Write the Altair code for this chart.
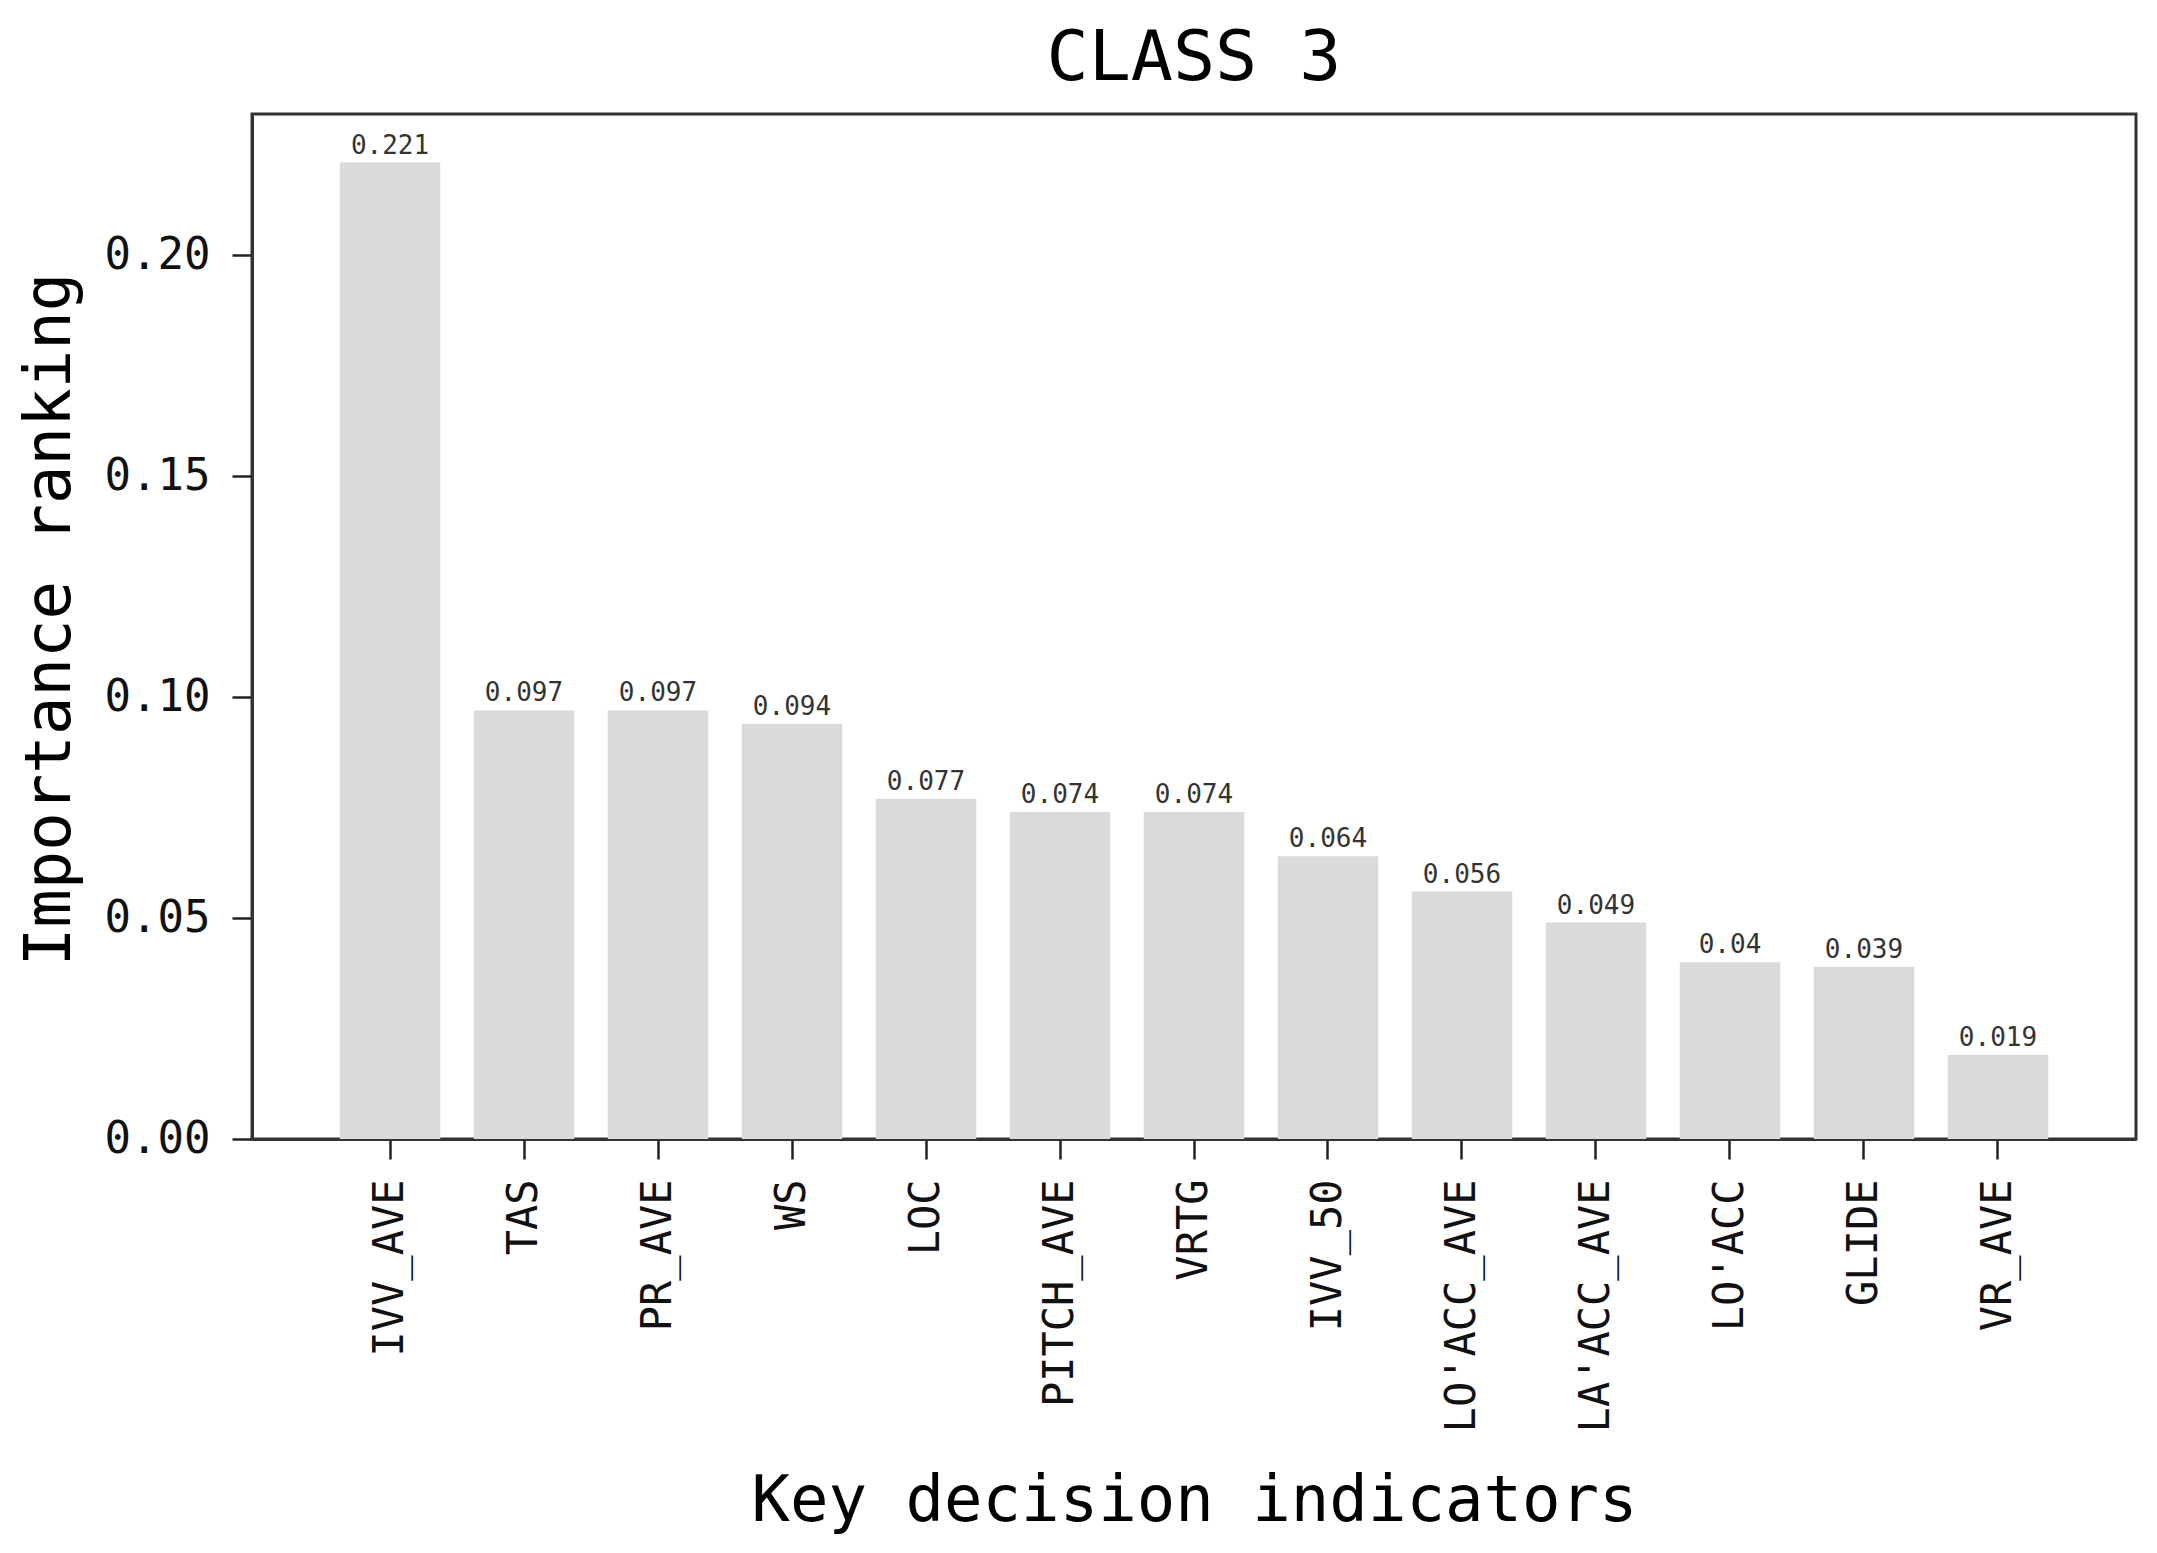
import altair as alt
import pandas as pd

features = ["IVV_AVE", "TAS", "PR_AVE", "WS", "LOC", "PITCH_AVE", "VRTG",
            "IVV_50", "LO'ACC_AVE", "LA'ACC_AVE", "LO'ACC", "GLIDE", "VR_AVE"]
values = [0.221, 0.097, 0.097, 0.094, 0.077, 0.074, 0.074,
          0.064, 0.056, 0.049, 0.04, 0.039, 0.019]
labels = ["0.221", "0.097", "0.097", "0.094", "0.077", "0.074", "0.074",
          "0.064", "0.056", "0.049", "0.04", "0.039", "0.019"]
y_ticks = [0.0, 0.05, 0.10, 0.15, 0.20]

df = pd.DataFrame({"feature": features, "value": values, "label": labels})

FONT = "DejaVu Sans Mono"

x = alt.X("feature:N", sort=features,
          scale=alt.Scale(paddingInner=0.25, paddingOuter=0.655),
          axis=alt.Axis(title="Key decision indicators", labelAngle=-90, labelLimit=0,
                        labelFont=FONT, labelFontSize=42, labelColor="#111",
                        labelPadding=20, tickSize=20, tickWidth=2.5, tickColor="#222",
                        domainColor="#333", domainWidth=3,
                        titleFont=FONT, titleFontSize=64, titleFontWeight="normal",
                        titleColor="#000", titleY=362, titleBaseline="middle"))
y = alt.Y("value:Q",
          scale=alt.Scale(domain=[0, 0.232], nice=False),
          axis=alt.Axis(title="Importance ranking", values=y_ticks, format=".2f",
                        grid=False, labelFont=FONT, labelFontSize=44, labelColor="#111",
                        labelPadding=22, tickSize=20, tickWidth=2.5, tickColor="#222",
                        domainColor="#333", domainWidth=3,
                        titleFont=FONT, titleFontSize=64, titleFontWeight="normal",
                        titleColor="#000", titleAngle=-90, titleX=-202, titleY=505,
                        titleAlign="center", titleBaseline="middle"))

bars = alt.Chart(df).mark_bar(color="#dadada").encode(x=x, y=y)
text = alt.Chart(df).mark_text(font=FONT, fontSize=26, color="#333",
                               baseline="bottom", dy=-4).encode(
    x=alt.X("feature:N", sort=features), y="value:Q", text="label:N")

chart = alt.layer(bars, text).properties(
    width=1884, height=1025,
    title=alt.TitleParams("CLASS 3", font=FONT, fontSize=70, fontWeight="normal",
                          color="#000", anchor="middle", offset=19),
    autosize=alt.AutoSizeParams(type="none"),
    padding={"left": 244, "top": 106, "right": 10, "bottom": 406},
).configure(background="white").configure_view(stroke="#333", strokeWidth=3)

chart.save("out.html", embed_options={"renderer": "svg", "actions": False})
